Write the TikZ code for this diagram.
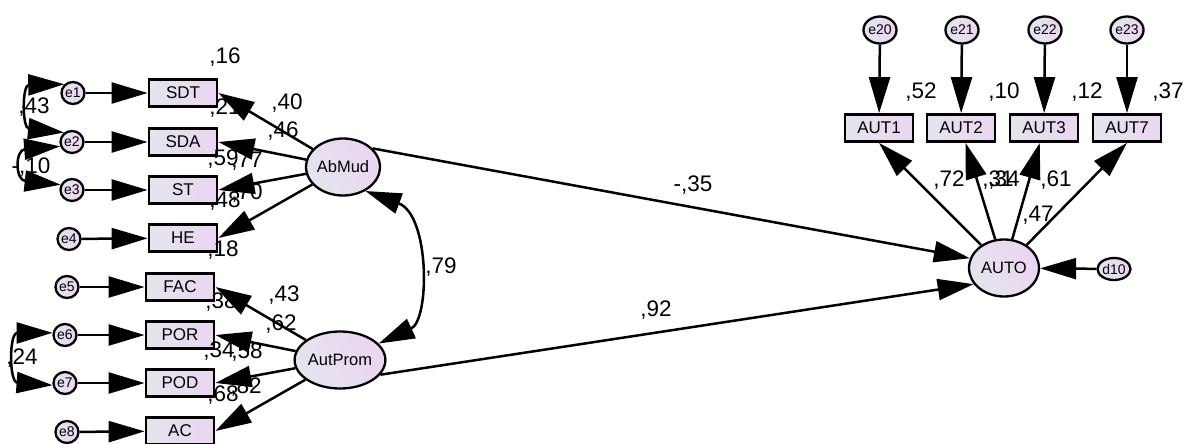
\documentclass[tikz,border=0pt]{standalone}
\usepackage{fontspec}
\setmainfont{Liberation Sans}
\usetikzlibrary{arrows.meta,shapes.geometric}
\definecolor{fillL}{HTML}{E4E4EE}
\definecolor{fillR}{HTML}{EBD5F1}
\tikzset{
  obs/.style={draw, line width=2.8pt, minimum width=68pt, minimum height=27pt, inner sep=0pt,
    left color=fillL, right color=fillR, font=\fontsize{17}{17}\selectfont},
  lat/.style={ellipse, draw, line width=2.3pt, minimum width=70pt, minimum height=57pt, inner sep=0pt,
    left color=fillL, right color=fillR, shading angle=120, font=\fontsize{16.5}{17}\selectfont},
  err/.style={ellipse, draw, line width=2.3pt, minimum width=23pt, minimum height=22pt, inner sep=0pt,
    left color=fillL, right color=fillR, font=\fontsize{14}{14}\selectfont},
  errv/.style={err, minimum width=24pt, minimum height=27pt},
  pth/.style={line width=2.5pt, -{Triangle[length=36pt,width=21pt]}},
  cov/.style={line width=2.5pt, {Triangle[length=36pt,width=21pt]}-{Triangle[length=36pt,width=21pt]}},
  lbl/.style={font=\fontsize{22.5}{23}\selectfont, inner sep=0pt}
}
\begin{document}
\begin{tikzpicture}[x=1pt,y=-1pt]
\useasboundingbox (0,0) rectangle (1184,444);
% error terms
\node[err] (e1) at (73,93) {e1};
\node[err] (e2) at (72,142) {e2};
\node[err] (e3) at (72,190) {e3};
\node[err] (e4) at (69,239) {e4};
\node[err] (e5) at (67,287) {e5};
\node[err] (e6) at (65,335) {e6};
\node[err] (e7) at (65,383) {e7};
\node[err] (e8) at (67,432) {e8};
% observed left
\node[obs] (SDT) at (183,93) {SDT};
\node[obs] (SDA) at (183,142) {SDA};
\node[obs] (ST) at (183,190) {ST};
\node[obs] (HE) at (183,238) {HE};
\node[obs] (FAC) at (180,287) {FAC};
\node[obs] (POR) at (180,335) {POR};
\node[obs] (POD) at (180,383) {POD};
\node[obs] (AC) at (180,431) {AC};
% latents
\node[lat] (AbMud) at (343,167) {AbMud};
\node[lat] (AutProm) at (340,360) {AutProm};
\node[lat] (AUTO) at (1004,268) {AUTO};
\node[err] (d10) at (1114,269) {d10};
% right observed
\node[obs] (AUT1) at (879,128) {AUT1};
\node[obs] (AUT2) at (961,128) {AUT2};
\node[obs] (AUT3) at (1044,128) {AUT3};
\node[obs] (AUT7) at (1127,128) {AUT7};
\node[errv] (e20) at (880,30) {e20};
\node[errv] (e21) at (962,30) {e21};
\node[errv] (e22) at (1045,30) {e22};
\node[errv] (e23) at (1127,30) {e23};
% labels
\node[lbl] (l1) at (225,57) {,16};
\node[lbl] (l2) at (225,108) {,21};
\node[lbl] (l3) at (287,103) {,40};
\node[lbl] (l4) at (283,131) {,46};
\node[lbl] (l5) at (223,159) {,59};
\node[lbl] (l6) at (247,161) {,77};
\node[lbl] (l7) at (225,201) {,48};
\node[lbl] (l8) at (247,193) {,70};
\node[lbl] (l9) at (223,250) {,18};
\node[lbl] (l10) at (284,295) {,43};
\node[lbl] (l11) at (221,302) {,38};
\node[lbl] (l12) at (281,324) {,62};
\node[lbl] (l13) at (219,351) {,34};
\node[lbl] (l14) at (247,352) {,58};
\node[lbl] (l15) at (223,395) {,68};
\node[lbl] (l16) at (246,387) {,82};
\node[lbl] (l17) at (34,107) {,43};
\node[lbl] (l18) at (31,167) {-,10};
\node[lbl] (l19) at (22,358) {,24};
\node[lbl] (l20) at (441,267) {,79};
\node[lbl] (l21) at (693,185) {-,35};
\node[lbl] (l22) at (656,310) {,92};
\node[lbl] (l23) at (921,92) {,52};
\node[lbl] (l24) at (1004,92) {,10};
\node[lbl] (l25) at (1087,92) {,12};
\node[lbl] (l26) at (1168,92) {,37};
\node[lbl] (l27) at (949,180) {,72};
\node[lbl] (l28) at (998,180) {,31};
\node[lbl] (l29) at (1004,180) {,34};
\node[lbl] (l30) at (1056,180) {,61};
\node[lbl] (l31) at (1038,215) {,47};
% error arrows
\draw[pth] (e1) -- (SDT);
\draw[pth] (e2) -- (SDA);
\draw[pth] (e3) -- (ST);
\draw[pth] (e4) -- (HE);
\draw[pth] (e5) -- (FAC);
\draw[pth] (e6) -- (POR);
\draw[pth] (e7) -- (POD);
\draw[pth] (e8) -- (AC);
% loadings
\draw[pth] (AbMud) -- (SDT.east);
\draw[pth] (AbMud) -- (SDA.east);
\draw[pth] (AbMud) -- (ST.east);
\draw[pth] (AbMud) -- (HE.east);
\draw[pth] (AutProm) -- (FAC.east);
\draw[pth] (AutProm) -- (POR.east);
\draw[pth] (AutProm) -- (POD.east);
\draw[pth] (AutProm) -- (AC.east);
% structural
\draw[pth] (AbMud.32) -- (AUTO.164);
\draw[pth] (AutProm.-20) -- (AUTO.208);
\draw[pth] (d10) -- (AUTO);
\draw[pth] (AUTO) -- (AUT1.south);
\draw[pth] (AUTO) -- (AUT2);
\draw[pth] (AUTO) -- (AUT3);
\draw[pth] (AUTO) -- (AUT7.south);
\draw[pth] (e20) -- (AUT1);
\draw[pth] (e21) -- (AUT2);
\draw[pth] (e22) -- (AUT3);
\draw[pth] (e23) -- (AUT7);
% covariances
\draw[cov] (e1.135) .. controls (22,85) and (22,128) .. (e2.130);
\draw[cov] (e2.200) .. controls (15,150) and (15,180) .. (e3.155);
\draw[cov] (e6.170) .. controls (9,333) and (9,382) .. (e7.190);
\draw[cov] (AbMud.-47) .. controls (430,215) and (430,320) .. (AutProm.23);
\end{tikzpicture}
\end{document}
